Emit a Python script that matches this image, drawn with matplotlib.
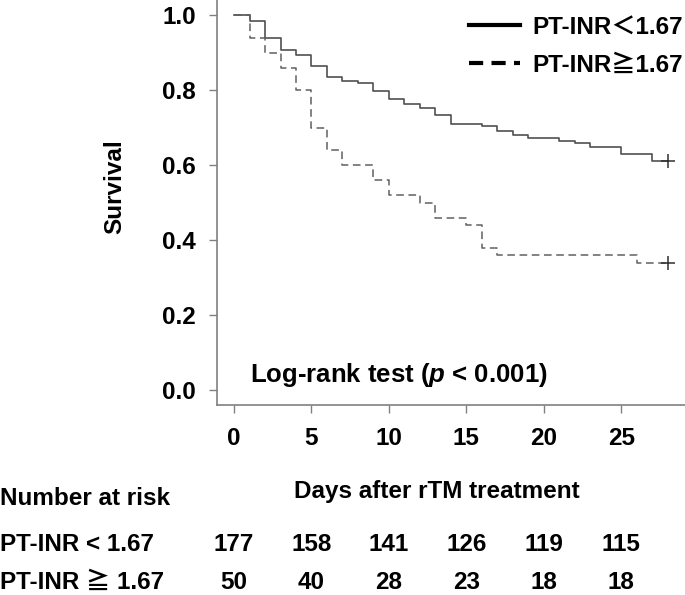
import numpy as np
import matplotlib
matplotlib.use("Agg")
import matplotlib.pyplot as plt
from matplotlib.lines import Line2D
import matplotlib.transforms as mtransforms

plt.rcParams["font.family"] = ["Liberation Sans", "Noto Sans CJK JP", "DejaVu Sans"]
plt.rcParams["font.weight"] = "bold"
plt.rcParams["mathtext.fontset"] = "custom"
plt.rcParams["mathtext.it"] = "Liberation Sans:italic:bold"
plt.rcParams["mathtext.rm"] = "Liberation Sans:bold"

# Kaplan-Meier step data (time in days, survival after step)
low_t = [0, 1, 2, 3, 4, 5, 6, 7, 8, 9, 10, 11, 12, 13, 14, 16, 17, 18, 19, 21, 22, 23, 25, 27, 28]
low_s = [1.0, 0.983, 0.938, 0.908, 0.893, 0.864, 0.836, 0.825, 0.819, 0.797, 0.775, 0.762,
         0.751, 0.733, 0.709, 0.704, 0.691, 0.680, 0.671, 0.664, 0.658, 0.647, 0.629, 0.610, 0.610]
high_t = [0, 1, 2, 3, 4, 5, 6, 7, 9, 10, 12, 13, 15, 16, 17, 26, 28]
high_s = [1.0, 0.94, 0.90, 0.86, 0.80, 0.70, 0.64, 0.60, 0.56, 0.52, 0.50, 0.46, 0.44,
          0.38, 0.36, 0.34, 0.34]

risk_times = [0, 5, 10, 15, 20, 25]
risk_low = [177, 158, 141, 126, 119, 115]
risk_high = [50, 40, 28, 23, 18, 18]

legend_labels = ["PT-INR\uff1c1.67", "PT-INR\u22671.67"]
row_labels = ["PT-INR < 1.67", "PT-INR \u2267 1.67"]

FS = 17.5
GRAY = "#808080"

fig = plt.figure(figsize=(6.85, 5.95), dpi=100)
ax = fig.add_axes([216.7 / 685, 190 / 595, 1 - 216.7 / 685, 405 / 595])

ax.step(low_t, low_s, where="post", color="#505050", lw=1.2)
ax.step(high_t, high_s, where="post", color="#606060", lw=1.1, ls=(0, (5, 3)))
ax.plot(low_t[-1], low_s[-1], marker="+", ms=10, mew=1.1, color="#303030")
ax.plot(high_t[-1], high_s[-1], marker="+", ms=10, mew=1.1, color="#303030")

ax.set_xlim(-1.12, 29.12)
ax.set_ylim(-0.04, 1.04)
ax.set_xticks(risk_times)
ax.set_yticks([0.0, 0.2, 0.4, 0.6, 0.8, 1.0])
ax.set_yticklabels(["0.0", "0.2", "0.4", "0.6", "0.8", "1.0"])
for s in ["top", "right"]:
    ax.spines[s].set_visible(False)
for s in ["left", "bottom"]:
    ax.spines[s].set_color(GRAY)
    ax.spines[s].set_linewidth(1.2)
ax.tick_params(axis="both", colors=GRAY, width=1.0, length=6, labelsize=FS)
ax.tick_params(axis="x", pad=10, labelcolor="black")
ax.tick_params(axis="y", pad=9, labelcolor="black")
for lab in ax.get_xticklabels() + ax.get_yticklabels():
    lab.set_fontweight("bold")

ax.text(1.0, 0.022, r"Log-rank test ($p$ < 0.001)", fontsize=18.5, fontweight="bold",
        ha="left", va="baseline")

handles = [Line2D([], [], color="black", lw=3),
           Line2D([], [], color="black", lw=3, ls=(0, (3.4, 2.0)))]
fig.legend(handles, legend_labels, loc="upper right",
           bbox_to_anchor=(683 / 685, 1 - 16 / 595), frameon=False,
           prop={"size": FS, "weight": "bold"}, handlelength=2.1,
           handletextpad=0.5, labelspacing=0.6, borderpad=0, borderaxespad=0)

fig.text(115 / 685, 1 - 187 / 595, "Survival", rotation=90, fontsize=FS,
         fontweight="bold", ha="center", va="center")
fig.text(437 / 685, 1 - 498 / 595, "Days after rTM treatment", fontsize=FS,
         fontweight="bold", ha="center", va="baseline")

fig.text(0, 1 - 505 / 595, "Number at risk", fontsize=FS, fontweight="bold",
         ha="left", va="baseline")
trans = mtransforms.blended_transform_factory(ax.transData, fig.transFigure)
for lab, counts, base in [(row_labels[0], risk_low, 551), (row_labels[1], risk_high, 589)]:
    fig.text(0, 1 - base / 595, lab, fontsize=FS, fontweight="bold",
             ha="left", va="baseline")
    for t, n in zip(risk_times, counts):
        ax.text(t, 1 - base / 595, str(n), transform=trans, fontsize=FS,
                fontweight="bold", ha="center", va="baseline", clip_on=False)

fig.savefig("out.png", dpi=100)
